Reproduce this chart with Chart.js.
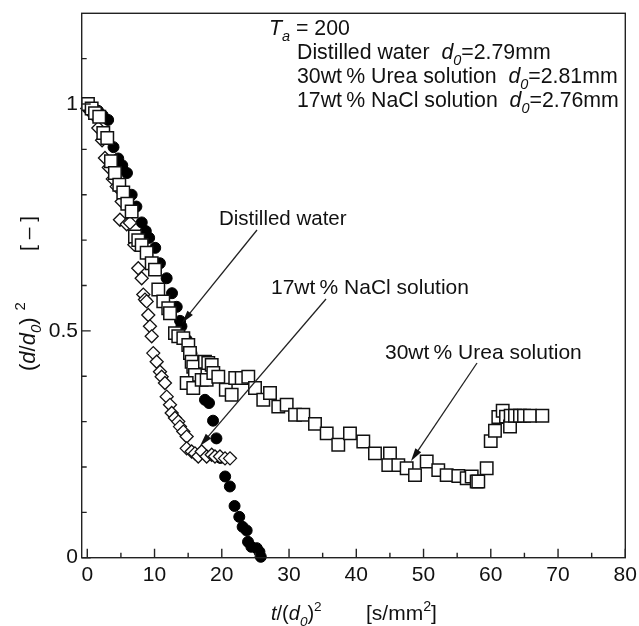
<!DOCTYPE html>
<html>
<head>
<meta charset="utf-8">
<script src="https://cdn.jsdelivr.net/npm/chart.js@4"></script>
<style>
html, body { margin: 0; padding: 0; background: #fff; }
</style>
</head>
<body>
<canvas id="c" width="639" height="626"></canvas>
<script>
const FONT = '"Liberation Sans", Arial, sans-serif';

// distilled water (filled circles)
const waterX = [0.4, 1.0, 1.6, 2.3, 3.1, 3.9, 4.6, 5.2, 5.9, 6.6, 7.3, 8.1, 8.7, 9.2, 10.1, 10.8, 11.8, 12.6, 13.3, 13.8,
  14.0, 14.8, 15.5, 16.2, 16.8, 17.5, 18.1, 18.7, 19.2, 19.8, 20.5, 21.2, 21.9, 22.6, 23.1, 23.7, 23.9, 24.4, 25.2, 25.6, 25.8];
const waterY = [0.995, 0.99, 0.985, 0.975, 0.965, 0.905, 0.88, 0.865, 0.848, 0.80, 0.774, 0.739, 0.72, 0.705, 0.683, 0.649, 0.616, 0.583, 0.553, 0.522,
  0.51, 0.48, 0.45, 0.425, 0.39, 0.348, 0.341, 0.302, 0.263, 0.22, 0.179, 0.157, 0.114, 0.09, 0.068, 0.06, 0.035, 0.024, 0.021, 0.013, 0.002];

// 30wt% urea solution (open squares)
const ureaX = [0.1, 0.65, 1.15, 1.78, 2.38, 2.97, 3.52, 4.11, 4.76, 5.35, 5.95, 6.6, 7.09, 7.58, 8.09, 8.83, 9.58, 10.07, 10.56, 11.3,
  12.04, 12.3, 13.04, 13.53, 14.28, 15.02, 15.27, 15.52, 15.76, 16.01, 14.78, 15.76, 17.01, 17.5, 17.99, 18.5, 17.75, 18.74, 19.48, 20.6,
  21.47, 22.0, 22.96, 23.94, 24.94, 26.17, 27.17, 28.4, 29.65, 30.89, 32.12, 33.86, 35.6, 37.32, 39.06, 41.04, 42.78, 45.01, 44.76, 46.25,
  47.49, 48.73, 50.47, 52.19, 53.44, 55.17, 56.42, 57.16, 57.9, 58.14, 59.39, 59.99, 60.62, 61.12, 61.77, 62.26, 62.86, 62.96, 63.6, 64.34,
  64.94, 65.83, 67.66];
const ureaY = [1.0, 0.99, 0.98, 0.972, 0.936, 0.925, 0.874, 0.848, 0.822, 0.805, 0.78, 0.763, 0.708, 0.70, 0.689, 0.672, 0.649, 0.635, 0.591, 0.565,
  0.55, 0.539, 0.495, 0.488, 0.484, 0.469, 0.451, 0.432, 0.421, 0.403, 0.385, 0.374, 0.392, 0.432, 0.429, 0.425, 0.392, 0.407, 0.399, 0.37,
  0.359, 0.396, 0.396, 0.399, 0.374, 0.348, 0.363, 0.333, 0.337, 0.315, 0.315, 0.295, 0.274, 0.249, 0.274, 0.256, 0.23, 0.23, 0.204, 0.204,
  0.197, 0.182, 0.212, 0.193, 0.182, 0.18, 0.175, 0.179, 0.168, 0.168, 0.197, 0.257, 0.28, 0.31, 0.324, 0.311, 0.289, 0.313, 0.313, 0.313,
  0.313, 0.313, 0.313];

// 17wt% NaCl solution (open diamonds)
const naclX = [0.0, 0.5, 1.0, 1.64, 2.2, 2.63, 3.2, 3.8, 4.37, 4.86, 5.12, 5.86, 6.35, 7.0, 7.58, 8.09, 8.33, 8.58, 8.83, 9.07,
  9.32, 9.58, 9.81, 10.32, 10.81, 11.06, 11.55, 11.81, 12.3, 12.55, 13.04, 13.53, 13.78, 14.28, 14.78, 14.78, 15.52, 16.01, 16.5, 17.01,
  17.75, 18.5, 18.99, 19.73, 20.48, 21.22];
const naclY = [0.99, 0.985, 0.975, 0.947, 0.92, 0.881, 0.86, 0.835, 0.818, 0.745, 0.785, 0.735, 0.738, 0.69, 0.638, 0.616, 0.58, 0.569, 0.565, 0.535,
  0.51, 0.488, 0.451, 0.432, 0.41, 0.399, 0.385, 0.355, 0.337, 0.319, 0.308, 0.30, 0.289, 0.278, 0.267, 0.241, 0.234, 0.23, 0.223, 0.234,
  0.223, 0.227, 0.223, 0.223, 0.219, 0.219];

const xTicks = [0, 10, 20, 30, 40, 50, 60, 70, 80];
const yTicks = [0, 0.5, 1];

const pts = (xs, ys) => xs.map((x, i) => ({ x, y: ys[i] }));

// text made of pieces: italic, subscript, superscript
function richText(ctx, x, y, parts, size, rot) {
  ctx.save();
  ctx.translate(x, y);
  if (rot) ctx.rotate(rot);
  ctx.textAlign = 'left';
  ctx.textBaseline = 'alphabetic';
  let cx = 0;
  for (const p of parts) {
    const s = (p.sub || p.sup) ? size * 0.68 : size;
    ctx.font = (p.it ? 'italic ' : '') + s + 'px ' + FONT;
    const dy = p.sub ? size * 0.28 : p.sup ? -size * 0.45 : 0;
    ctx.fillText(p.t, cx, dy);
    cx += ctx.measureText(p.t).width + (p.gap || 0);
  }
  ctx.restore();
}

function arrow(ctx, x1, y1, x2, y2) {
  const a = Math.atan2(y2 - y1, x2 - x1);
  const len = 13, hw = 3.5;
  ctx.beginPath();
  ctx.moveTo(x1, y1);
  ctx.lineTo(x2 - Math.cos(a) * len * 0.8, y2 - Math.sin(a) * len * 0.8);
  ctx.stroke();
  ctx.beginPath();
  ctx.moveTo(x2, y2);
  ctx.lineTo(x2 - Math.cos(a) * len + Math.sin(a) * hw, y2 - Math.sin(a) * len - Math.cos(a) * hw);
  ctx.lineTo(x2 - Math.cos(a) * len - Math.sin(a) * hw, y2 - Math.sin(a) * len + Math.cos(a) * hw);
  ctx.closePath();
  ctx.fill();
}

const framePlugin = {
  id: 'frame',
  afterDraw(chart) {
    const { ctx, chartArea: a, scales: { x, y } } = chart;
    ctx.save();
    ctx.strokeStyle = '#222';
    ctx.fillStyle = '#111';
    ctx.lineWidth = 1.4;
    ctx.strokeRect(a.left, a.top, a.right - a.left, a.bottom - a.top);

    // inward ticks
    ctx.beginPath();
    for (let v = 0; v <= 80; v += 5) {
      const px = x.getPixelForValue(v);
      const len = v % 10 === 0 ? 9 : 5;
      ctx.moveTo(px, a.bottom);
      ctx.lineTo(px, a.bottom - len);
    }
    for (let i = 0; i <= 11; i++) {
      const py = y.getPixelForValue(i / 10);
      const len = i % 5 === 0 ? 9 : 5;
      ctx.moveTo(a.left, py);
      ctx.lineTo(a.left + len, py);
    }
    ctx.stroke();

    ctx.font = '21px ' + FONT;
    ctx.textAlign = 'center';
    ctx.textBaseline = 'middle';
    xTicks.forEach(v => ctx.fillText(String(v), x.getPixelForValue(v), 575));
    ctx.textAlign = 'right';
    yTicks.forEach(v => ctx.fillText(String(v), 78, y.getPixelForValue(v)));

    // axis titles
    richText(ctx, 271, 620, [
      { t: 't', it: true }, { t: '/(' }, { t: 'd', it: true }, { t: '0', it: true, sub: true }, { t: ')' }, { t: '2', sup: true }
    ], 20);
    richText(ctx, 366, 620, [{ t: '[s/mm' }, { t: '2', sup: true }, { t: ']' }], 21);
    richText(ctx, 35, 371, [
      { t: '(' }, { t: 'd', it: true }, { t: '/' }, { t: 'd', it: true }, { t: '0', it: true, sub: true }, { t: ')', gap: 7 }, { t: '2', sup: true }
    ], 22, -Math.PI / 2);
    richText(ctx, 35, 251, [{ t: '[ \u2013 ]' }], 21, -Math.PI / 2);

    // condition block
    const LS = 21.3;
    richText(ctx, 269, 35, [{ t: 'T', it: true }, { t: 'a', it: true, sub: true }, { t: ' = 200' }], LS);
    richText(ctx, 297, 59, [{ t: 'Distilled water  ' }, { t: 'd', it: true }, { t: '0', it: true, sub: true }, { t: '=2.79mm' }], LS);
    richText(ctx, 297, 83, [{ t: '30wt\u2009% Urea solution  ' }, { t: 'd', it: true }, { t: '0', it: true, sub: true }, { t: '=2.81mm' }], LS);
    richText(ctx, 297, 107, [{ t: '17wt\u2009% NaCl solution  ' }, { t: 'd', it: true }, { t: '0', it: true, sub: true }, { t: '=2.76mm' }], LS);

    // annotations
    richText(ctx, 219, 225, [{ t: 'Distilled water' }], 20.5);
    richText(ctx, 271, 294, [{ t: '17wt\u2009% NaCl solution' }], 21);
    richText(ctx, 385, 359, [{ t: '30wt\u2009% Urea solution' }], 21);

    ctx.lineWidth = 1.3;
    arrow(ctx, 257, 230, 182, 323);
    arrow(ctx, 326, 299, 200, 446);
    arrow(ctx, 477, 363, 411, 461);
    ctx.restore();
  }
};

new Chart(document.getElementById('c'), {
  type: 'scatter',
  data: {
    datasets: [
      {
        label: '30wt% Urea solution',
        data: pts(ureaX, ureaY),
        pointStyle: 'rect',
        pointRadius: 8.8,
        backgroundColor: '#fff',
        borderColor: '#111',
        borderWidth: 1.5,
        clip: false,
      },
      {
        label: '17wt% NaCl solution',
        data: pts(naclX, naclY),
        pointStyle: 'rectRot',
        pointRadius: 6.5,
        backgroundColor: '#fff',
        borderColor: '#111',
        borderWidth: 1.3,
        clip: false,
      },
      {
        label: 'Distilled water',
        data: pts(waterX, waterY),
        pointStyle: 'circle',
        pointRadius: 5.5,
        backgroundColor: '#000',
        borderColor: '#000',
        borderWidth: 1,
        clip: false,
      },
    ],
  },
  options: {
    responsive: false,
    animation: false,
    devicePixelRatio: 1,
    events: [],
    layout: { padding: { left: 81.7, right: 13.7, top: 13.3, bottom: 68.3 } },
    plugins: { legend: { display: false }, tooltip: { enabled: false } },
    scales: {
      x: { type: 'linear', min: -0.83, max: 80, display: false },
      y: { type: 'linear', min: 0, max: 1.2, display: false },
    },
  },
  plugins: [framePlugin],
});
</script>
</body>
</html>
